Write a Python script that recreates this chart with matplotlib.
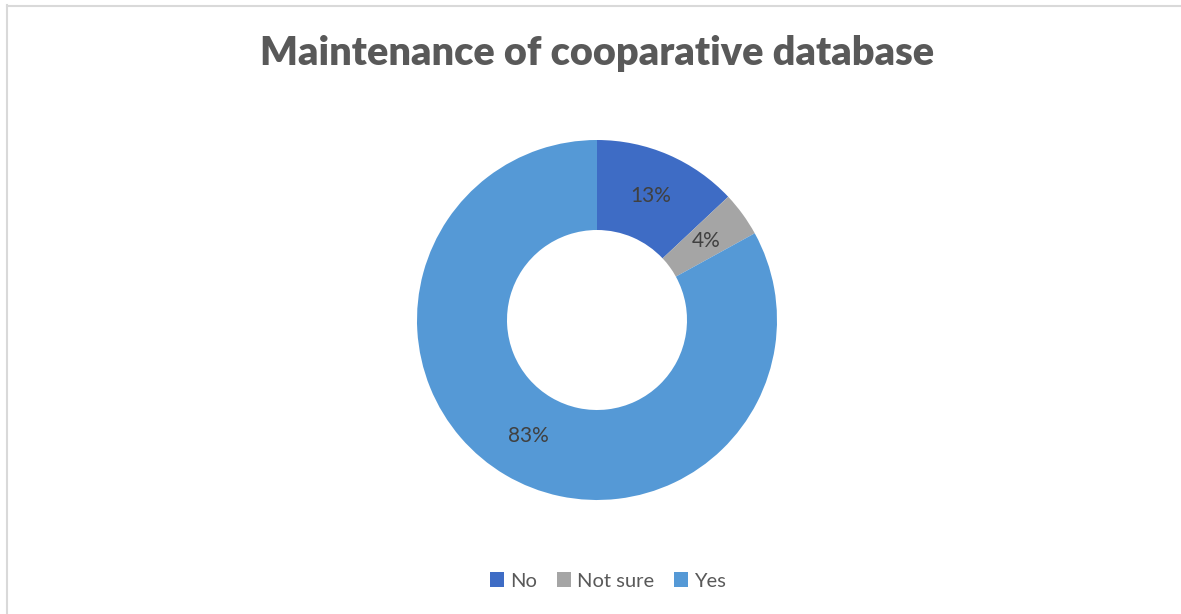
import matplotlib.pyplot as plt
from matplotlib.lines import Line2D

plt.rcParams['font.family'] = ['Lato', 'DejaVu Sans']

# data
categories = ['No', 'Not sure', 'Yes']
values = [13, 4, 83]
colors = ['#3E6CC5', '#A5A5A5', '#5599D6']

fig = plt.figure(figsize=(11.81, 6.14), dpi=100)

# light frame (top and left edges visible in the reference)
fig.add_artist(Line2D([6.5 / 1181, 6.5 / 1181], [0, 1 - 5 / 614], color='#D9D9D9', lw=1.5))
fig.add_artist(Line2D([6.5 / 1181, 1], [1 - 5.5 / 614, 1 - 5.5 / 614], color='#D9D9D9', lw=1.5))

fig.text(597 / 1181, 1 - 53 / 614, 'Maintenance of cooparative database',
         ha='center', va='center', fontsize=28.5, fontweight='heavy', color='#595959')

ax = fig.add_axes([(597 - 180) / 1181, (614 - 500) / 614, 360 / 1181, 360 / 614])
wedges, texts, autotexts = ax.pie(values, colors=colors, startangle=90, counterclock=False,
                                  radius=1, autopct='%1.0f%%', pctdistance=0.75,
                                  wedgeprops=dict(width=0.5, linewidth=0),
                                  textprops=dict(fontsize=15, color='#404040'))
ax.set_xlim(-1, 1)
ax.set_ylim(-1, 1)
ax.set_aspect('equal')
ax.axis('off')

fig.legend(wedges, categories, loc='center', bbox_to_anchor=(608 / 1181, 1 - 581 / 614),
           ncol=3, frameon=False, fontsize=14.5, labelcolor='#595959',
           handlelength=0.7, handleheight=0.7, handletextpad=0.3, columnspacing=1.0)

fig.savefig('out.png', dpi=100)
